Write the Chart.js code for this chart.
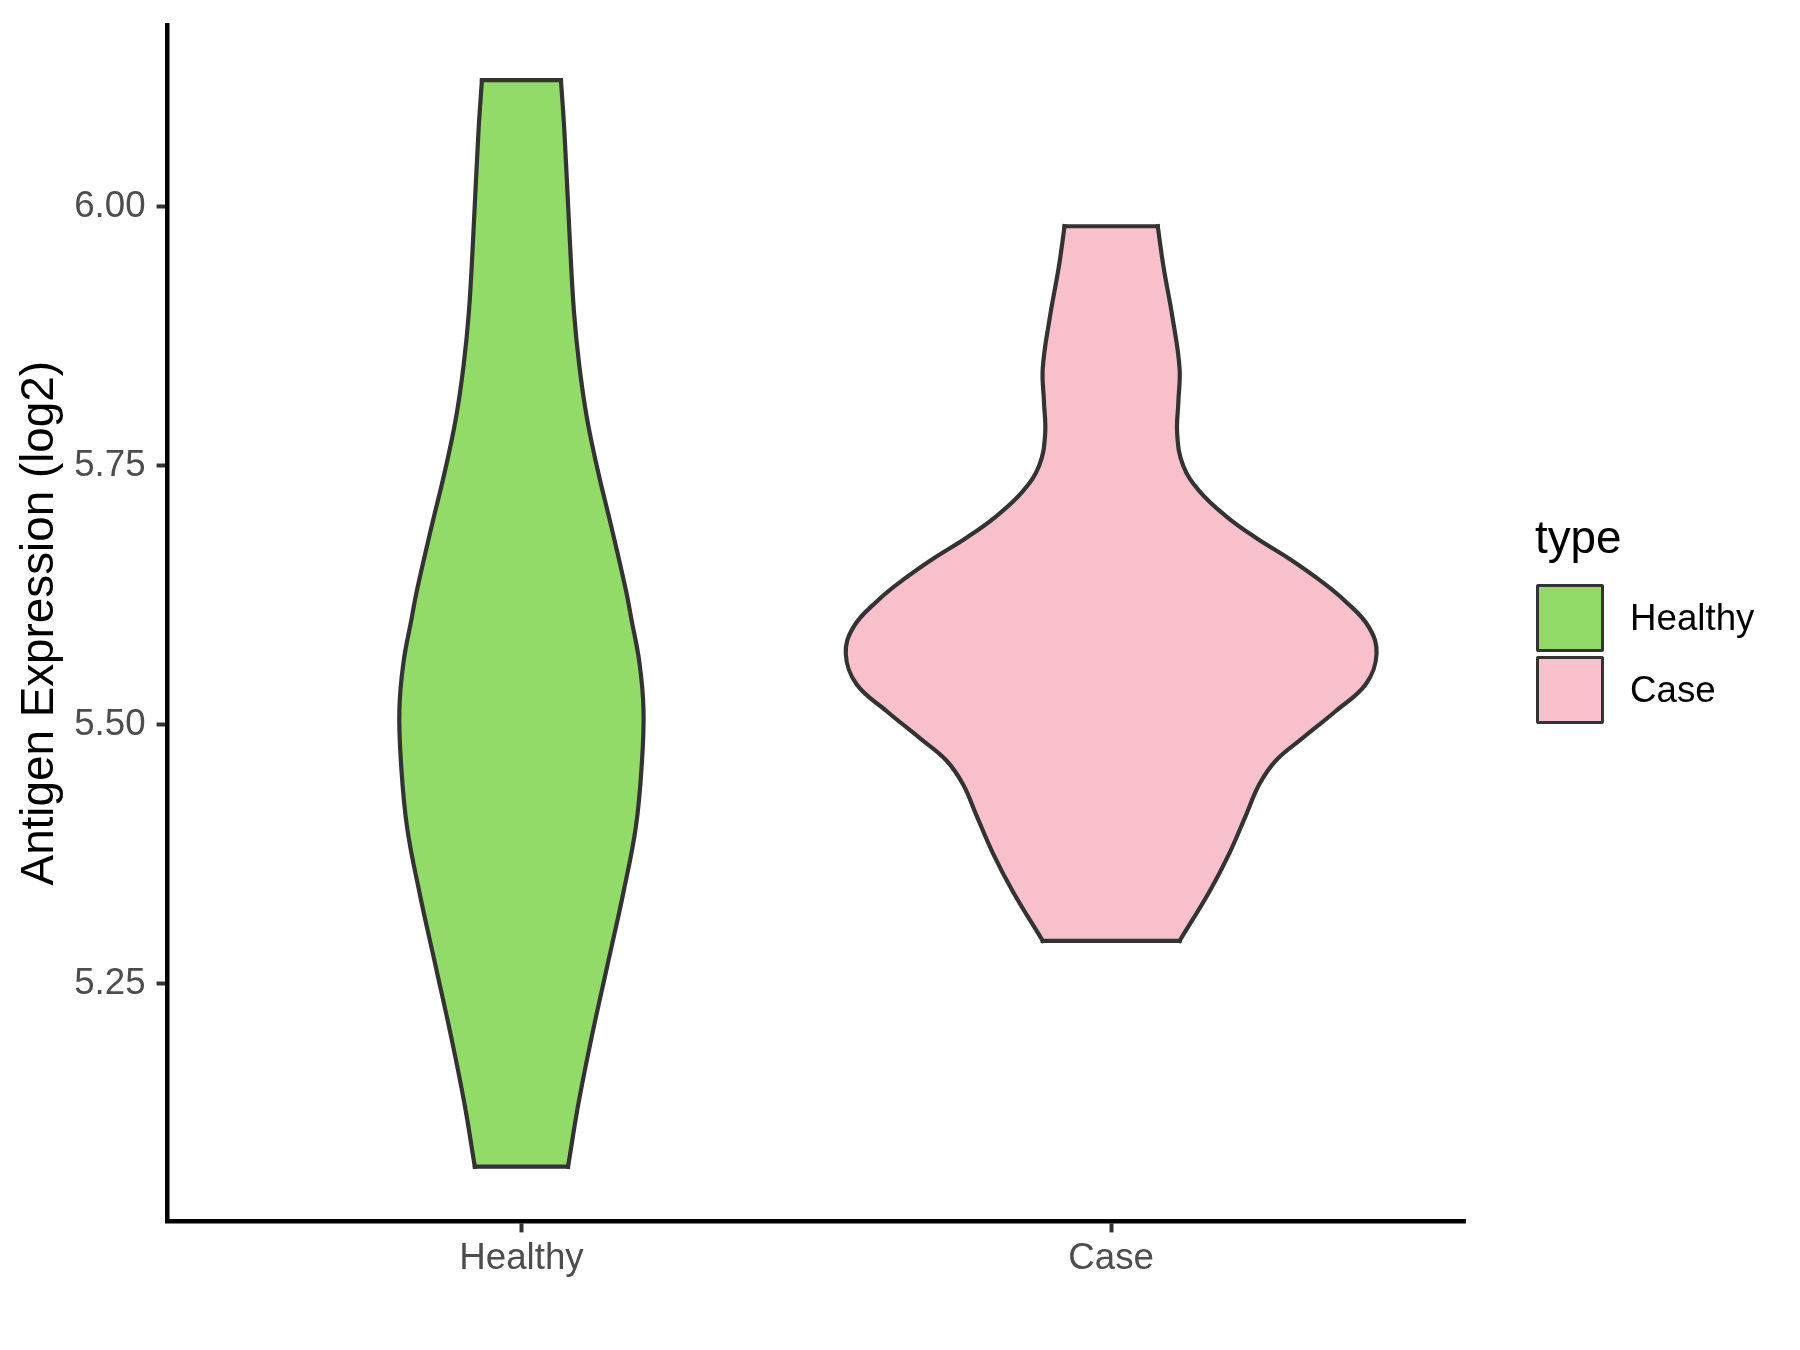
<!DOCTYPE html>
<html>
<head>
<meta charset="utf-8">
<title>Antigen Expression (log2)</title>
<script src="https://cdn.jsdelivr.net/npm/chart.js@4.4.1/dist/chart.umd.min.js"></script>
<style>
  body { margin: 0; background: #fff; }
  #wrap { position: relative; width: 1800px; height: 1350px; }
  .lg { position: absolute; font-family: "Liberation Sans", Arial, sans-serif; color: #000; white-space: nowrap; }
  .key { position: absolute; box-sizing: border-box; width: 68px; height: 68px; border: 3.5px solid #333; border-radius: 2px; }
</style>
</head>
<body>
<div id="wrap">
  <canvas id="violinChart" width="1800" height="1350"></canvas>
  <div id="legend"></div>
</div>
<script>
const groups = ['Healthy', 'Case'];
const groupPos = [1, 2];
const fillColors = ['#93DB69', '#F7C0CB'];

// violin outline: expression value and half width (in category units)
const healthyValue = [5.073, 5.135, 5.198, 5.268, 5.338, 5.401, 5.461, 5.514, 5.560, 5.603, 5.630, 5.692, 5.744, 5.796, 5.847, 5.899, 5.968, 6.071, 6.122];
const healthyHalf  = [0.079, 0.097, 0.119, 0.146, 0.173, 0.194, 0.204, 0.207, 0.200, 0.186, 0.177, 0.152, 0.130, 0.111, 0.098, 0.089, 0.082, 0.073, 0.067];

const caseValue = [5.291, 5.339, 5.375, 5.413, 5.442, 5.465, 5.487, 5.513, 5.539, 5.568, 5.594, 5.619, 5.640, 5.660, 5.680, 5.701, 5.725, 5.750, 5.780, 5.812, 5.844, 5.893, 5.941, 5.981];
const caseHalf  = [0.116, 0.167, 0.200, 0.229, 0.251, 0.279, 0.325, 0.381, 0.432, 0.450, 0.437, 0.397, 0.352, 0.302, 0.246, 0.195, 0.150, 0.122, 0.112, 0.114, 0.116, 0.104, 0.089, 0.079];

const yTicks = [5.25, 5.50, 5.75, 6.00];
const yMin = 5.0202, yMax = 6.1753;

const FONT = '"Liberation Sans", Arial, sans-serif';
const OUTLINE = '#333333';

function edge(pos, vals, half, side) {
  return vals.map((v, i) => ({ x: pos + side * half[i], y: v }));
}

function cap(pos, v, w) {
  return [{ x: pos - w, y: v }, { x: pos + w, y: v }];
}

const shapes = [
  { vals: healthyValue, half: healthyHalf },
  { vals: caseValue, half: caseHalf }
];

const datasets = [];
shapes.forEach((s, g) => {
  const pos = groupPos[g];
  datasets.push({
    label: groups[g],
    data: edge(pos, s.vals, s.half, -1),
    backgroundColor: fillColors[g],
    fill: '+1',
    tension: 0.4
  });
  datasets.push({
    label: groups[g] + ' right',
    data: edge(pos, s.vals, s.half, 1),
    fill: false,
    tension: 0.4
  });
});
shapes.forEach((s, g) => {
  const pos = groupPos[g];
  const n = s.vals.length - 1;
  datasets.push({ label: 'cap', data: cap(pos, s.vals[0], s.half[0]), fill: false, tension: 0 });
  datasets.push({ label: 'cap', data: cap(pos, s.vals[n], s.half[n]), fill: false, tension: 0 });
});
datasets.forEach(d => {
  d.borderColor = OUTLINE;
  d.borderWidth = 4.2;
  d.pointRadius = 0;
  d.borderCapStyle = 'square';
  d.borderJoinStyle = 'miter';
});

new Chart(document.getElementById('violinChart'), {
  type: 'line',
  data: { datasets: datasets },
  options: {
    indexAxis: 'y',
    responsive: false,
    animation: false,
    events: [],
    layout: { padding: { left: 0, top: 25, right: 335, bottom: 0 } },
    plugins: {
      legend: { display: false },
      tooltip: { enabled: false },
      // paint all fills first so no outline gets covered
      filler: { drawTime: 'beforeDatasetsDraw' }
    },
    scales: {
      x: {
        type: 'linear',
        position: 'bottom',
        min: 0.4,
        max: 2.6,
        afterBuildTicks: s => { s.ticks = groupPos.map(v => ({ value: v })); },
        afterFit: s => { s.height = 128.6; s.paddingLeft = 0; s.paddingRight = 0; },
        ticks: {
          callback: v => groups[groupPos.indexOf(v)],
          font: { family: FONT, size: 36.7 },
          color: '#4D4D4D',
          padding: 4,
          maxRotation: 0,
          autoSkip: false
        },
        grid: { drawOnChartArea: false, tickLength: 11, tickColor: OUTLINE, tickWidth: 4 },
        border: { color: '#000', width: 4.5 }
      },
      y: {
        type: 'linear',
        min: yMin,
        max: yMax,
        afterBuildTicks: s => { s.ticks = yTicks.map(v => ({ value: v })); },
        afterFit: s => { s.width = 167.6; s.paddingTop = 0; s.paddingBottom = 0; },
        ticks: {
          callback: v => v.toFixed(2),
          font: { family: FONT, size: 36.7 },
          color: '#4D4D4D',
          padding: 11
        },
        grid: { drawOnChartArea: false, tickLength: 11, tickColor: OUTLINE, tickWidth: 4 },
        border: { color: '#000', width: 4.5 },
        title: {
          display: true,
          text: 'Antigen Expression (log2)',
          color: '#000',
          font: { family: FONT, size: 45.8, lineHeight: 1 },
          padding: { top: 17, bottom: 0 }
        }
      }
    }
  }
});

// legend in the ggplot style, to the right of the panel
const legend = document.getElementById('legend');
let html = '<div class="lg" style="left:1535px;top:515px;font-size:45.8px;line-height:45.8px">type</div>';
groups.forEach((g, i) => {
  const top = 584 + i * 72;
  html += '<div class="key" style="left:1536px;top:' + top + 'px;background:' + fillColors[i] + '"></div>';
  html += '<div class="lg" style="left:1630px;top:' + top + 'px;font-size:36.7px;line-height:68px">' + g + '</div>';
});
legend.innerHTML = html;
</script>
</body>
</html>
